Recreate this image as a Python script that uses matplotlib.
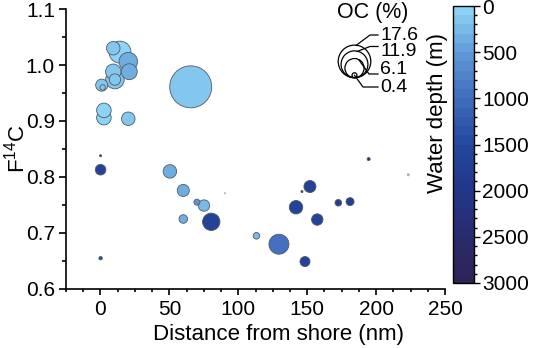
import numpy as np
import matplotlib
matplotlib.use('Agg')
import matplotlib.pyplot as plt
from matplotlib.colors import LinearSegmentedColormap
from matplotlib.patches import Circle
from matplotlib.ticker import MultipleLocator

plt.rcParams['font.family'] = ['Liberation Sans', 'DejaVu Sans']
plt.rcParams['mathtext.fontset'] = 'custom'
plt.rcParams['mathtext.rm'] = 'Liberation Sans'
plt.rcParams['mathtext.default'] = 'regular'

# samples: distance from shore (nm), F14C, OC (%), water depth (m)
dist = [9.3, 14.2, 20.2, 20.9, 9.3, 10.5, 10.5, 0.9, 1.6, 2.5, 2.5, 20.2, 65.5,
        0.1, 0.1, 0.1, 50.4, 60.1, 70.0, 75.1, 60.1, 80.4, 113.2, 129.5,
        152.0, 146.2, 141.9, 172.6, 181.1, 157.3, 148.4, 194.6]
f14c = [1.030, 1.023, 1.006, 0.988, 0.988, 0.974, 0.974, 0.964, 0.960, 0.919, 0.906, 0.904, 0.961,
        0.838, 0.813, 0.655, 0.810, 0.776, 0.755, 0.749, 0.725, 0.720, 0.695, 0.680,
        0.783, 0.774, 0.746, 0.754, 0.756, 0.724, 0.649, 0.832]
oc = [3.0, 8.0, 5.7, 4.2, 3.9, 5.7, 2.15, 2.4, 0.48, 3.5, 3.5, 3.0, 29.2,
      0.07, 1.86, 0.19, 3.0, 2.4, 0.6, 2.15, 1.22, 5.0, 0.72, 6.6,
      2.4, 0.07, 3.0, 0.72, 1.06, 2.15, 1.66, 0.15]
depth = [100, 80, 300, 350, 100, 120, 120, 100, 100, 80, 80, 100, 100,
         2000, 1600, 1400, 350, 350, 550, 200, 300, 1600, 250, 900,
         1600, 1600, 1600, 1700, 1700, 1600, 1600, 2800]

# samples without depth
nd_dist = [223.4, 90.3]
nd_f14c = [0.804, 0.771]
nd_oc = [0.15, 0.07]

legend_oc = [17.6, 11.9, 6.1, 0.4]
legend_labels = ['17.6', '11.9', '6.1', '0.4']

W, H = 533, 348
SIZE = 31.3  # points^2 per % OC

cmap = LinearSegmentedColormap.from_list(
  'depth', ['#8DD3F5', '#5F97D5', '#3E6BBB', '#24479E', '#24368A', '#282C70', '#2E2356'], N=30)

fig = plt.figure(figsize=(W / 100, H / 100), dpi=100)
ax = fig.add_axes([66 / W, 1 - 289 / H, 379 / W, 280 / H])

order = np.argsort(oc)[::-1]
x = np.array(dist)[order]
y = np.array(f14c)[order]
s = np.array(oc)[order] * SIZE
c = np.array(depth)[order]

ax.scatter(nd_dist, nd_f14c, s=np.array(nd_oc) * SIZE, color='#b0b0b0', linewidths=0)
sc = ax.scatter(x, y, s=s, c=c, cmap=cmap, vmin=0, vmax=3000,
                edgecolors='#505a64', linewidths=0.6, zorder=3)

ax.set_xlim(-25, 250)
ax.set_ylim(0.6, 1.1)
ax.xaxis.set_major_locator(MultipleLocator(50))
ax.xaxis.set_minor_locator(MultipleLocator(12.5))
ax.yaxis.set_major_locator(MultipleLocator(0.1))
ax.yaxis.set_minor_locator(MultipleLocator(0.05))
ax.yaxis.set_major_formatter(plt.FormatStrFormatter('%.1f'))
for side in ['top', 'right']:
  ax.spines[side].set_visible(False)
for side in ['left', 'bottom']:
  ax.spines[side].set_linewidth(1.2)
ax.tick_params(axis='both', which='both', direction='out', width=1.2, labelsize=15)
ax.tick_params(axis='y', which='major', length=5, pad=3)
ax.tick_params(axis='y', which='minor', length=3)
ax.tick_params(axis='x', which='major', length=4, pad=4)
ax.tick_params(axis='x', which='minor', length=2.5)

ax.set_xlabel('Distance from shore (nm)', fontsize=16)
ax.xaxis.set_label_coords(0.562, -0.125)
ax.set_ylabel(r'F$^{14}$C', fontsize=16)
ax.yaxis.set_label_coords(-0.095, 0.50)

# colorbar
cax = fig.add_axes([453 / W, 1 - 283 / H, 21 / W, 277 / H])
cb = fig.colorbar(sc, cax=cax)
cax.invert_yaxis()
cb.set_ticks(np.arange(0, 3001, 500))
cax.yaxis.set_minor_locator(MultipleLocator(100))
cax.tick_params(which='both', direction='out', width=1, labelsize=15)
cax.tick_params(which='major', length=4, pad=2)
cax.tick_params(which='minor', length=2.5)
cb.outline.set_linewidth(1)
cax.yaxis.set_label_position('left')
cax.set_ylabel('Water depth (m)', fontsize=16)
cax.yaxis.set_label_coords(-0.25, 0.614)

# OC legend
lax = fig.add_axes([320 / W, 1 - 100 / H, 120 / W, 100 / H])
lax.set_xlim(320, 440)
lax.set_ylim(100, 0)
lax.axis('off')
cx, base = 354.5, 77.7
leaders = [[(356, 45.5), (370, 35), (378, 35)],
           [(357, 51.5), (370, 46.5), (378, 46.5)],
           [(359, 60), (369, 74), (378, 74)],
           [(354.5, 75.3), (363, 87), (378, 87)]]
label_y = [35.5, 51, 70, 88]
for v, lab, pts, ly in zip(legend_oc, legend_labels, leaders, label_y):
  r = np.sqrt(v * SIZE) / 0.72 / 2
  lax.add_patch(Circle((cx, base - r), r, facecolor='none', edgecolor='black', linewidth=0.9))
  px, py = zip(*pts)
  lax.plot(px, py, color='black', linewidth=0.9)
  lax.text(380, ly, lab, ha='left', va='center', fontsize=14,
           family=['Liberation Sans Narrow', 'Liberation Sans'])
lax.text(373, 12.5, 'OC (%)', ha='center', va='center', fontsize=15.5)

fig.savefig('out.png', dpi=100)
